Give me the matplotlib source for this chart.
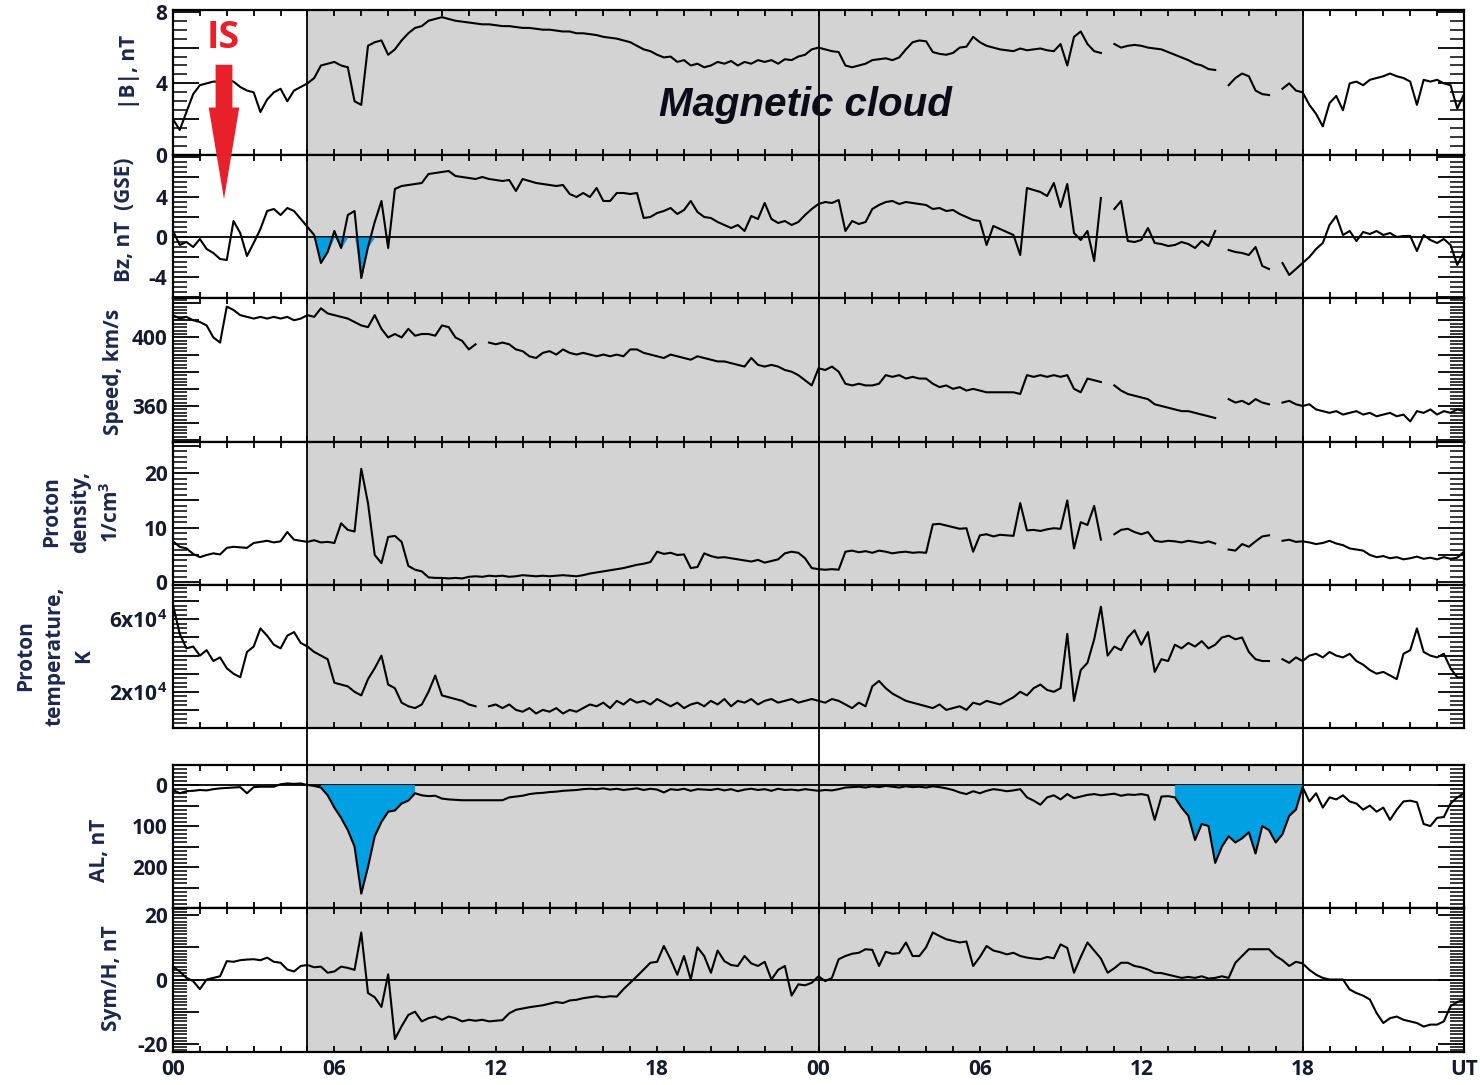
import numpy as np
import matplotlib.pyplot as plt
from matplotlib.ticker import MultipleLocator, FuncFormatter
from matplotlib.patches import FancyArrowPatch

plt.rcParams['font.family'] = ['Open Sans', 'DejaVu Sans']
plt.rcParams['font.weight'] = 'bold'
plt.rcParams['mathtext.fontset'] = 'custom'
plt.rcParams['mathtext.rm'] = 'Open Sans:bold'
plt.rcParams['mathtext.default'] = 'rm'

nan = np.nan

# two days of 15-min values, hours since 00 UT of the first day
hours = np.arange(0, 48.01, 0.25)

bmag = [2.0, 1.4, 2.4, 3.4, 3.9, 4.0, 4.1, 4.1,
        4.2, 4.1, 3.8, 3.6, 3.5, 2.4, 3.1, 3.5,
        3.7, 3.0, 3.6, 3.8, 4.0, 4.3, 5.0, 5.1,
        5.2, 5.0, 4.9, 3.0, 2.8, 6.1, 6.3, 6.4,
        5.6, 5.9, 6.4, 6.8, 7.1, 7.2, 7.5, 7.6,
        7.7, 7.6, 7.5, 7.45, 7.4, 7.35, 7.3, 7.3,
        7.25, 7.2, 7.2, 7.15, 7.1, 7.1, 7.05, 7.0,
        7.0, 6.95, 6.9, 6.9, 6.8, 6.8, 6.75, 6.7,
        6.6, 6.55, 6.5, 6.4, 6.3, 6.1, 5.9, 5.8,
        5.6, 5.45, 5.5, 5.2, 5.3, 5.0, 5.1, 4.9,
        5.0, 5.2, 5.1, 5.25, 5.0, 5.2, 5.1, 5.3,
        5.2, 5.3, 5.1, 5.35, 5.3, 5.5, 5.6, 5.9,
        6.0, 5.9, 5.8, 5.75, 5.0, 4.9, 5.0, 5.1,
        5.3, 5.35, 5.4, 5.3, 5.45, 5.9, 6.3, 6.4,
        6.35, 5.75, 5.65, 5.6, 5.7, 6.0, 6.05, 6.6,
        6.3, 6.1, 6.0, 5.9, 5.85, 5.8, 5.95, 5.85,
        5.9, 5.95, 5.85, 5.8, 6.2, 5.0, 6.6, 6.9,
        6.2, 5.8, 5.7, nan, 6.2, 6.0, 6.1, 6.15,
        6.1, 6.0, 5.95, 5.9, 5.75, 5.6, 5.45, 5.3,
        5.1, 5.0, 4.8, 4.75, nan, 3.9, 4.3, 4.55,
        4.4, 3.6, 3.4, 3.35, nan, 3.7, 4.0, 3.6,
        3.5, 2.8, 2.3, 1.6, 2.9, 3.3, 2.5, 4.0,
        4.1, 3.9, 4.2, 4.3, 4.4, 4.55, 4.4, 4.3,
        4.1, 2.8, 4.2, 4.1, 4.2, 4.0, 3.9, 2.6,
        3.4]

bz = [0.6, -0.8, -0.5, -1.0, -0.2, -1.2, -1.6, -2.2,
      -2.3, 1.6, 0.4, -1.9, -0.6, 0.8, 2.6, 2.8,
      2.2, 2.9, 2.6, 1.8, 1.0, 0.2, -2.6, -1.5,
      0.6, -1.1, 2.2, 2.6, -4.1, -1.0, 1.5, 3.6,
      -1.1, 4.8, 5.1, 5.2, 5.3, 5.4, 6.3, 6.4,
      6.5, 6.6, 6.1, 6.0, 5.9, 5.8, 6.0, 5.8,
      5.7, 5.6, 5.7, 4.6, 5.8, 5.6, 5.4, 5.3,
      5.2, 5.1, 5.2, 4.3, 4.0, 4.4, 4.0, 4.9,
      3.6, 3.6, 4.4, 4.4, 4.3, 4.4, 1.9, 2.0,
      2.4, 2.6, 2.9, 2.3, 2.7, 3.6, 2.5, 2.0,
      1.9, 1.5, 1.2, 0.9, 1.2, 0.6, 2.1, 1.8,
      3.4, 1.8, 1.4, 1.6, 1.2, 1.5, 2.2, 2.8,
      3.3, 3.5, 3.4, 3.7, 0.6, 1.6, 1.3, 1.5,
      2.8, 3.2, 3.5, 3.6, 3.3, 3.5, 3.4, 3.3,
      3.2, 2.8, 2.9, 2.6, 2.7, 2.3, 2.0, 1.7,
      1.6, -0.8, 1.1, 0.8, 0.5, 0.2, -1.8, 4.9,
      4.7, 4.5, 4.1, 5.4, 3.0, 5.3, 0.4, -0.3,
      0.6, -2.4, 3.9, nan, 2.8, 3.6, -0.4, -0.5,
      -0.3, 0.9, -0.6, -0.7, -0.9, -0.8, -0.5, -0.7,
      -1.1, -0.4, -0.9, 0.6, nan, -1.3, -1.5, -1.6,
      -1.8, -1.0, -2.9, -3.2, nan, -2.6, -3.8, -3.2,
      -2.6, -2.0, -1.2, -0.6, 1.2, 2.1, 0.2, 0.6,
      -0.4, 0.5, 0.3, 0.6, 0.2, 0.4, 0.0, 0.1,
      0.1, -1.4, 0.2, -0.3, -0.6, -0.2, -0.8, -2.8,
      -1.5]

speed = [413, 411, 412, 410, 409, 407, 400, 397,
         418, 416, 413, 412, 411, 412, 411, 412,
         411, 412, 410, 411, 413, 412, 417, 414,
         413, 412, 411, 409, 407, 406, 413, 405,
         400, 402, 400, 405, 401, 402, 402, 401,
         407, 406, 400, 398, 393, 396, nan, 397,
         396, 397, 396, 393, 392, 389, 388, 391,
         392, 390, 393, 391, 390, 391, 390, 389,
         390, 389, 390, 389, 393, 393, 391, 390,
         389, 388, 390, 389, 388, 387, 389, 388,
         387, 386, 386, 385, 384, 383, 388, 384,
         383, 384, 383, 381, 380, 378, 375, 372,
         382, 381, 383, 380, 373, 372, 373, 372,
         372, 373, 378, 377, 378, 376, 377, 376,
         376, 373, 371, 372, 370, 371, 369, 370,
         369, 368, 368, 368, 368, 368, 367, 378,
         377, 378, 377, 378, 377, 378, 370, 368,
         376, 375, 374, nan, 372, 369, 367, 366,
         365, 364, 361, 360, 359, 358, 357, 357,
         356, 355, 354, 353, nan, 364, 362, 363,
         361, 364, 362, 361, nan, 362, 363, 361,
         360, 361, 358, 357, 356, 357, 355, 356,
         357, 355, 356, 354, 355, 356, 354, 355,
         351, 357, 356, 358, 355, 357, 356, 358,
         357]

density = [7.5, 6.5, 6.2, 5.2, 4.6, 5.0, 5.3, 5.1,
           6.3, 6.5, 6.4, 6.3, 7.2, 7.4, 7.6, 7.3,
           7.5, 9.2, 7.8, 7.6, 7.4, 7.7, 7.3, 7.4,
           7.2, 10.8, 9.6, 9.3, 20.8, 14.5, 5.0, 3.5,
           8.3, 8.5, 7.4, 3.0, 2.3, 2.0, 0.9, 0.8,
           0.8, 0.7, 0.8, 0.7, 1.0, 1.1, 1.0, 1.2,
           1.1, 1.2, 1.0, 1.1, 1.3, 1.2, 1.1, 1.2,
           1.1, 1.2, 1.3, 1.2, 1.1, 1.3, 1.6, 1.8,
           2.0, 2.2, 2.4, 2.6, 2.9, 3.2, 3.4, 3.7,
           5.6, 5.2, 5.4, 5.0, 5.1, 2.6, 2.8, 5.3,
           4.8, 4.5, 4.6, 4.4, 4.2, 4.0, 3.8, 4.1,
           3.6, 3.9, 4.2, 5.3, 5.6, 5.4, 4.4, 2.6,
           2.4, 2.3, 2.4, 2.3, 5.6, 5.8, 5.5, 5.7,
           5.4, 5.8, 5.6, 5.3, 5.5, 5.6, 5.4, 5.5,
           5.4, 10.6, 10.7, 10.4, 10.1, 9.8, 9.9, 5.6,
           8.6, 8.8, 8.4, 8.7, 8.6, 8.5, 14.5, 9.5,
           9.6, 9.4, 9.7, 9.9, 9.8, 15.0, 6.2, 11.0,
           10.5, 14.0, 7.8, nan, 8.8, 9.6, 9.8, 9.2,
           8.8, 9.2, 7.6, 7.4, 7.6, 7.5, 7.3, 7.6,
           7.4, 7.2, 7.5, 7.1, nan, 6.0, 5.8, 7.0,
           6.5, 7.5, 8.4, 8.6, nan, 7.6, 7.8, 7.4,
           7.5, 7.3, 7.0, 7.2, 7.6, 7.1, 6.8, 6.2,
           6.0, 5.8, 5.0, 4.6, 4.8, 4.4, 4.6, 4.2,
           4.4, 4.7, 4.3, 4.5, 4.2, 4.6, 4.3, 4.5,
           5.6]

# proton temperature in units of 1e4 K
temp_1e4 = [6.8, 5.2, 4.4, 4.5, 4.0, 4.3, 3.7, 3.9,
            3.3, 3.0, 2.8, 4.2, 4.5, 5.5, 5.1, 4.6,
            4.4, 5.1, 5.3, 4.7, 4.5, 4.2, 4.0, 3.8,
            2.5, 2.4, 2.3, 2.0, 1.8, 2.7, 3.3, 4.0,
            2.4, 2.2, 1.4, 1.2, 1.1, 1.3, 2.0, 2.9,
            1.8, 1.7, 1.6, 1.5, 1.3, 1.2, nan, 1.2,
            1.3, 1.1, 1.3, 1.0, 0.9, 1.1, 0.8, 1.0,
            0.9, 1.1, 0.8, 1.0, 0.9, 1.1, 1.3, 1.2,
            1.4, 1.1, 1.5, 1.3, 1.6, 1.4, 1.5, 1.3,
            1.6, 1.4, 1.2, 1.4, 1.1, 1.3, 1.4, 1.2,
            1.5, 1.3, 1.6, 1.2, 1.5, 1.4, 1.6, 1.3,
            1.5, 1.6, 1.4, 1.5, 1.6, 1.4, 1.5, 1.6,
            1.5, 1.4, 1.6, 1.5, 1.3, 1.1, 1.4, 1.2,
            2.3, 2.6, 2.2, 1.9, 1.7, 1.5, 1.4, 1.3,
            1.2, 1.1, 1.3, 1.0, 1.1, 1.2, 1.0, 1.4,
            1.3, 1.5, 1.4, 1.3, 1.5, 1.7, 2.0, 1.8,
            2.2, 2.4, 2.1, 2.0, 2.2, 5.2, 1.5, 3.2,
            3.6, 4.9, 6.7, 4.0, 4.5, 4.3, 5.0, 5.4,
            4.6, 5.3, 3.1, 3.8, 3.7, 4.6, 4.4, 4.7,
            4.5, 4.8, 4.4, 4.6, 5.0, 5.1, 4.9, 5.0,
            4.2, 3.8, 3.7, 3.7, nan, 3.8, 3.6, 3.9,
            3.7, 4.0, 4.1, 3.9, 4.2, 4.0, 3.9, 4.1,
            3.7, 3.5, 3.2, 3.0, 3.1, 2.9, 2.7, 4.1,
            4.3, 5.5, 4.2, 4.0, 3.9, 4.1, 3.3, 2.8,
            2.8]

al = [12, 20, 15, 14, 12, 13, 10, 8,
      7, 6, 5, 20, 5, 4, 4, 4,
      -2, -4, -3, -4, 0, 2, 6, 25,
      55, 80, 110, 150, 265, 200, 125, 90,
      65, 62, 45, 38, 20, 25, 27, 26,
      33, 35, 36, 37, 37, 37, 37, 37,
      37, 37, 30, 28, 26, 22, 20, 19,
      17, 16, 14, 13, 12, 10, 9, 10,
      8, 11, 9, 12, 10, 8, 12, 9,
      11, 18, 10, 12, 9, 14, 10, 11,
      12, 9, 13, 10, 15, 11, 9, 12,
      10, 14, 9, 12, 11, 13, 10, 12,
      14, 12, 13, 10, 6, 5, 4, 6,
      3, 5, 2, 4, 6, 3, 5, 4,
      6, 3, 5, 8, 12, 18, 22, 15,
      20, 14, 10, 12, 15, 13, 10, 30,
      38, 48, 30, 25, 35, 22, 32, 28,
      24, 22, 25, 23, 21, 26, 23, 24,
      22, 25, 85, 28, 27, 30, 55, 75,
      134, 95, 100, 190, 150, 125, 140, 130,
      115, 167, 100, 110, 140, 120, 75, 60,
      5, 40, 20, 55, 30, 35, 25, 40,
      45, 60, 50, 65, 55, 85, 60, 40,
      38, 42, 95, 100, 80, 78, 45, 30,
      20]

symh = [4.0, 2.5, 0.5, -0.5, -3.0, 0.0, 0.5, 1.0,
        5.7, 5.5, 6.0, 6.2, 6.3, 6.0, 6.8, 5.5,
        5.2, 3.1, 2.5, 4.2, 4.5, 3.8, 4.0, 2.1,
        2.5, 4.0, 3.6, 3.0, 14.6, -4.2, -5.5, -8.5,
        1.6, -18.5, -14.5, -11.0, -10.0, -13.0, -12.0, -11.5,
        -12.5, -11.5, -12.0, -13.0, -12.5, -12.8, -12.5, -13.0,
        -12.8, -12.6, -10.5, -9.4, -9.0, -8.6, -8.3, -8.0,
        -7.5, -7.0, -7.3, -6.5, -6.3, -5.8, -5.5, -5.2,
        -5.5, -5.2, -5.3, -3.0, -1.0, 1.0, 3.1, 5.2,
        5.5, 10.4, 6.3, 1.5, 7.3, 0.0, 10.0, 7.3,
        2.1, 9.0, 5.7, 4.5, 4.2, 7.3, 5.0, 4.2,
        5.5, 0.0, 3.0, 4.2, -5.0, -1.5, -1.8, -1.0,
        1.0, -0.5, 0.5, 6.3, 7.3, 8.0, 8.3, 9.4,
        9.2, 4.2, 8.6, 8.0, 8.2, 11.5, 7.3, 7.3,
        10.0, 14.6, 13.5, 12.5, 12.0, 11.5, 11.8, 4.2,
        7.0, 10.4, 9.0, 8.5, 7.8, 8.3, 7.3, 6.8,
        6.5, 6.3, 7.0, 6.6, 10.9, 9.8, 2.1, 7.0,
        11.5, 9.0, 6.5, 2.1, 3.5, 5.2, 5.2, 4.2,
        3.8, 3.1, 2.1, 2.0, 1.5, 1.0, 0.5, 0.8,
        0.5, 1.0, 0.3, 0.5, 1.0, 0.5, 5.2, 7.3,
        9.4, 9.4, 9.4, 9.4, 7.3, 6.0, 4.2, 5.5,
        5.0, 3.0, 1.5, 0.5, 0.0, 0.0, 0.0, -3.1,
        -4.2, -5.0, -6.2, -10.4, -13.5, -12.0, -11.5, -12.5,
        -13.0, -13.5, -14.6, -14.0, -14.0, -13.0, -8.3, -7.0,
        -6.2]

cloud_start, cloud_end = 5, 42
xtick_labels = ['00', '06', '12', '18', '00', '06', '12', '18', 'UT']

BLUE = '#00a0e3'
GREY = '#d3d3d3'
LABEL_C = '#1d2850'
TICK_C = '#141a30'
LW = 1.5

W, H = 1480, 1085
X0, X1 = 173, 1464


def box(top, bottom):
    return [X0 / W, 1 - bottom / H, (X1 - X0) / W, (bottom - top) / H]


fig = plt.figure(figsize=(14.8, 10.85), dpi=100)

panel_px = [(10, 155), (155, 298), (298, 442), (442, 585), (585, 728),
            (765, 908), (908, 1052)]
axes = [fig.add_axes(box(t, b)) for t, b in panel_px]

# y limits, major/minor steps and labelled ticks for each panel
yspec = [
    ((0, 8.1), 2, 0.5, {0: '0', 4: '4', 8: '8'}),
    ((-6.1, 8.2), 2, 0.5, {-4: '-4', 0: '0', 4: '4'}),
    ((339, 423), 10, 2, {360: '360', 400: '400'}),
    ((-0.5, 25.7), 5, 1, {0: '0', 10: '10', 20: '20'}),
    ((0, 7.9e4), 1e4, 2500, {20000: r'2x10$^4$', 60000: r'6x10$^4$'}),
    ((300, -49), 50, 10, {0: '0', 100: '100', 200: '200'}),
    ((-22.5, 22.2), 10, 1, {-20: '-20', 0: '0', 20: '20'}),
]

for ax, (lim, major, minor, labels) in zip(axes, yspec):
    ax.set_xlim(0, 48)
    ax.axvspan(cloud_start, cloud_end, color=GREY, zorder=0, lw=0)
    for v in (cloud_start, 24, cloud_end):
        ax.axvline(v, color='k', lw=1.3, zorder=1)
    ax.set_ylim(*lim)
    ax.yaxis.set_major_locator(MultipleLocator(major))
    ax.yaxis.set_minor_locator(MultipleLocator(minor))
    ax.yaxis.set_major_formatter(
        FuncFormatter(lambda v, p, lab=labels: lab.get(int(round(v)), '')))
    ax.xaxis.set_major_locator(MultipleLocator(6))
    ax.xaxis.set_minor_locator(MultipleLocator(1))
    ax.tick_params(axis='y', which='major', direction='in', length=19,
                   width=1.3, left=True, right=True, labelsize=15,
                   labelcolor=TICK_C, pad=4)
    ax.tick_params(axis='y', which='minor', direction='in', length=10,
                   width=1.1, left=True, right=True)
    ax.tick_params(axis='x', which='both', direction='in', length=4,
                   width=1.3, top=True, bottom=True, labelbottom=False)
    for sp in ax.spines.values():
        sp.set_linewidth(1.6)

ax_b, ax_bz, ax_v, ax_n, ax_t, ax_al, ax_sym = axes
bz_arr = np.array(bz)
al_arr = np.array(al)

ax_b.plot(hours, bmag, color='k', lw=LW)

ax_bz.axhline(0, color='k', lw=1.3)
southward = (hours >= 5) & (hours <= 7.5)
ax_bz.fill_between(hours, 0, np.minimum(bz_arr, 0), where=southward,
                   interpolate=True, color=BLUE, lw=0, zorder=2)
ax_bz.plot(hours, bz, color='k', lw=LW, zorder=3)

ax_v.plot(hours, speed, color='k', lw=LW)
ax_n.plot(hours, density, color='k', lw=LW)
ax_t.plot(hours, np.array(temp_1e4) * 1e4, color='k', lw=LW)

# substorm intervals shaded in blue
ax_al.axhline(0, color='k', lw=1.3)
substorm = (((hours >= 5.5) & (hours <= 9.0)) |
            ((hours >= 37.25) & (hours <= 42)))
ax_al.fill_between(hours, 0, al_arr, where=substorm,
                   color=BLUE, lw=0, zorder=2)
ax_al.plot(hours, al, color='k', lw=LW, zorder=3)

ax_sym.axhline(0, color='k', lw=1.3)
ax_sym.plot(hours, symh, color='k', lw=LW)

ax_sym.set_xticks(range(0, 49, 6))
ax_sym.set_xticklabels(xtick_labels)
ax_sym.tick_params(axis='x', labelbottom=True, labelsize=15,
                   labelcolor=TICK_C, pad=5)

# boundary lines continue through the gap between the two panel groups
ax_gap = fig.add_axes(box(728, 765))
ax_gap.set_xlim(0, 48)
ax_gap.axis('off')
for v in (cloud_start, 24, cloud_end):
    ax_gap.axvline(v, color='k', lw=1.3)

# axis titles
ylab = dict(rotation=90, ha='center', va='center', fontsize=15,
            color=LABEL_C, multialignment='center', linespacing=1.5)
fig.text(130 / W, 1 - 72 / H, '|B|, nT', **ylab)
fig.text(125 / W, 1 - 220 / H, 'Bz, nT  (GSE)', **ylab)
fig.text(113 / W, 1 - 372 / H, 'Speed, km/s', **ylab)
fig.text(82 / W, 1 - 512 / H, 'Proton\ndensity,\n1/cm$^3$', **ylab)
fig.text(55 / W, 1 - 656 / H, 'Proton\ntemperature,\nK', **ylab)
fig.text(100 / W, 1 - 850 / H, 'AL, nT', **ylab)
fig.text(112 / W, 1 - 978 / H, 'Sym/H, nT', **ylab)

ax_b.text(23.5, 2.8, 'Magnetic cloud', fontsize=29, style='italic',
          weight='bold', family='Liberation Sans', ha='center', va='center',
          color='#0b0b18', zorder=4)

# interplanetary shock marker
fig.text(223 / W, 1 - 38 / H, 'IS', color='#e8202a', fontsize=27,
         weight='bold', ha='center', va='center')
fig.add_artist(FancyArrowPatch(
    (224 / W, 1 - 62 / H), (224 / W, 1 - 202 / H),
    transform=fig.transFigure,
    arrowstyle='simple,head_length=3.0,head_width=1.0,tail_width=0.55',
    mutation_scale=22, color='#e8202a', lw=0, zorder=10))

fig.savefig('out.png', dpi=100)
